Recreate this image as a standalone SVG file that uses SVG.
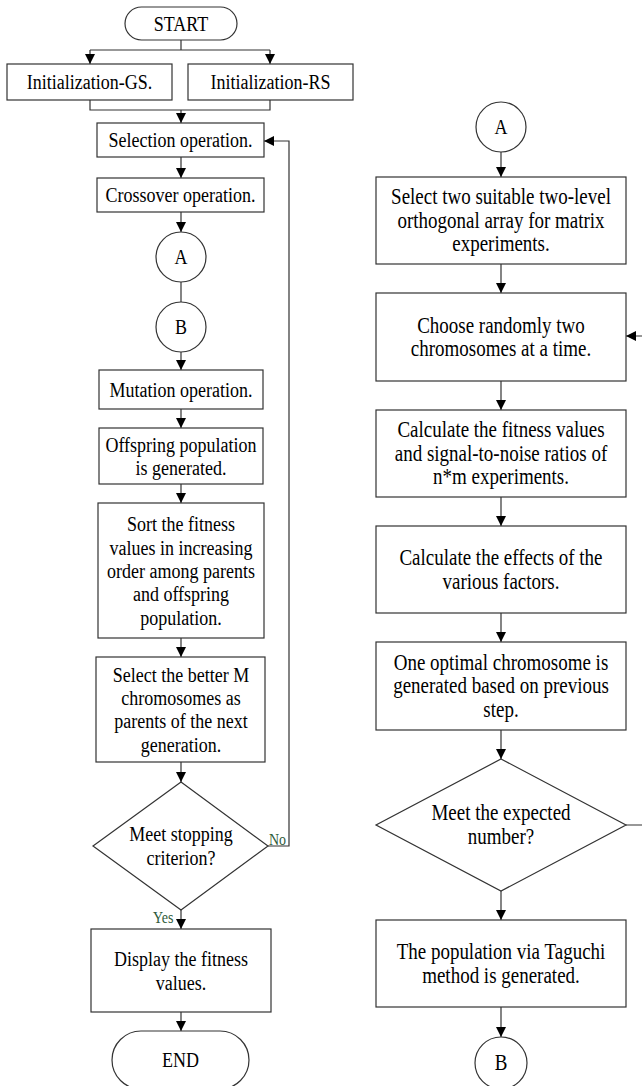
<svg xmlns="http://www.w3.org/2000/svg" width="642" height="1086" viewBox="0 0 642 1086">
<defs>
<marker id="ah" markerUnits="userSpaceOnUse" markerWidth="10" markerHeight="10" refX="10" refY="5" orient="auto">
<path d="M0,0 L10,5 L0,10 z" fill="#000"/>
</marker>
<style>
.n{fill:#fff;stroke:#333;stroke-width:1.2}
.t{font-family:"Liberation Serif","Times New Roman",serif;font-size:18px;fill:#000;text-anchor:middle;transform-box:fill-box;transform-origin:center;transform:scaleY(1.2)}
.r{font-size:19px}
.g{font-family:"Liberation Serif","Times New Roman",serif;font-size:14px;fill:#2e5a3a;transform-box:fill-box;transform-origin:center;transform:scaleY(1.2)}
.c{fill:none;stroke:#333;stroke-width:1.2}
.a{fill:none;stroke:#333;stroke-width:1.2;marker-end:url(#ah)}
</style>
</defs>
<rect width="642" height="1086" fill="#fff"/>
<g id="connectors">
<path class="c" d="M181 40 V50 M90 50 H270"/>
<path class="a" d="M90 50 V64"/>
<path class="a" d="M270 50 V64"/>
<path class="c" d="M90 100 V110 H270 V100"/>
<path class="a" d="M181 110 V123"/>
<path class="a" d="M181 157 V178"/>
<path class="a" d="M181 212 V232"/>
<path class="c" d="M181 282 V302"/>
<path class="a" d="M181 352 V370"/>
<path class="a" d="M181 409 V428"/>
<path class="a" d="M181 484 V503"/>
<path class="a" d="M181 638 V657"/>
<path class="a" d="M181 762 V782"/>
<path class="a" d="M181 910 V929"/>
<path class="a" d="M181 1012 V1031"/>
<path class="a" d="M268 846 H289 V141 H264"/>
<path class="a" d="M501 152 V177"/>
<path class="a" d="M501 264 V293"/>
<path class="a" d="M501 381 V410"/>
<path class="a" d="M501 497 V526"/>
<path class="a" d="M501 613 V642"/>
<path class="a" d="M501 730 V759"/>
<path class="a" d="M501 891 V920"/>
<path class="a" d="M501 1007 V1037"/>
<path class="a" d="M626 825 H652 V336 H626"/>
<text class="g" x="269" y="844">No</text>
<text class="g" x="153" y="922">Yes</text>
</g>
<g id="start"><rect class="n" x="125" y="7" width="112" height="33" rx="16.5"/><text class="t" x="181" y="29.5">START</text></g>
<g id="init-gs"><rect class="n" x="7" y="64" width="165" height="36"/><text class="t" x="89.5" y="88">Initialization-GS.</text></g>
<g id="init-rs"><rect class="n" x="188" y="64" width="165" height="36"/><text class="t" x="270.5" y="88">Initialization-RS</text></g>
<g id="selection"><rect class="n" x="97" y="123" width="167" height="34"/><text class="t" x="180.5" y="146">Selection operation.</text></g>
<g id="crossover"><rect class="n" x="97" y="178" width="167" height="34"/><text class="t" x="180.5" y="201">Crossover operation.</text></g>
<g id="conn-a-left"><circle class="n" cx="181" cy="257" r="25"/><text class="t" x="181" y="263">A</text></g>
<g id="conn-b-left"><circle class="n" cx="181" cy="327" r="25"/><text class="t" x="181" y="333">B</text></g>
<g id="mutation"><rect class="n" x="99" y="370" width="164" height="39"/><text class="t" x="181" y="395.5">Mutation operation.</text></g>
<g id="offspring"><rect class="n" x="99" y="428" width="164" height="56"/><text class="t" x="181" y="450.5">Offspring population</text><text class="t" x="181" y="474">is generated.</text></g>
<g id="sort"><rect class="n" x="98" y="503" width="166" height="135"/>
<text class="t" x="181" y="530">Sort the fitness</text>
<text class="t" x="181" y="553.3">values in increasing</text>
<text class="t" x="181" y="576.6">order among parents</text>
<text class="t" x="181" y="600">and offspring</text>
<text class="t" x="181" y="623.3">population.</text></g>
<g id="select-better"><rect class="n" x="96" y="657" width="169" height="105"/>
<text class="t" x="181" y="680.5">Select the better M</text>
<text class="t" x="181" y="703.8">chromosomes as</text>
<text class="t" x="181" y="727.1">parents of the next</text>
<text class="t" x="181" y="750.4">generation.</text></g>
<g id="stop-check"><polygon class="n" points="181,782 268,846 181,910 93,846"/>
<text class="t" x="181" y="840">Meet stopping</text>
<text class="t" x="181" y="863.5">criterion?</text></g>
<g id="display"><rect class="n" x="91" y="929" width="180" height="83"/>
<text class="t" x="181" y="965">Display the fitness</text>
<text class="t" x="181" y="988.5">values.</text></g>
<g id="end"><rect class="n" x="112" y="1031" width="137" height="58" rx="29"/><text class="t" x="180.5" y="1066">END</text></g>
<g id="conn-a-right"><circle class="n" cx="501" cy="127" r="25"/><text class="t" x="501" y="133">A</text></g>
<g id="select-array"><rect class="n" x="376" y="177" width="250" height="87"/>
<text class="t r" x="501" y="203">Select two suitable two-level</text>
<text class="t r" x="501" y="226.5">orthogonal array for matrix</text>
<text class="t r" x="501" y="250">experiments.</text></g>
<g id="choose"><rect class="n" x="376" y="293" width="250" height="88"/>
<text class="t r" x="501" y="331.5">Choose randomly two</text>
<text class="t r" x="501" y="355">chromosomes at a time.</text></g>
<g id="calc-fitness"><rect class="n" x="376" y="410" width="250" height="87"/>
<text class="t r" x="501" y="436">Calculate the fitness values</text>
<text class="t r" x="501" y="459.5">and signal-to-noise ratios of</text>
<text class="t r" x="501" y="483">n*m experiments.</text></g>
<g id="calc-effects"><rect class="n" x="376" y="526" width="250" height="87"/>
<text class="t r" x="501" y="564">Calculate the effects of the</text>
<text class="t r" x="501" y="587.5">various factors.</text></g>
<g id="optimal"><rect class="n" x="376" y="642" width="250" height="88"/>
<text class="t r" x="501" y="668.5">One optimal chromosome is</text>
<text class="t r" x="501" y="692">generated based on previous</text>
<text class="t r" x="501" y="715.5">step.</text></g>
<g id="expected-check"><polygon class="n" points="501,759 626,825 501,891 376,825"/>
<text class="t r" x="501" y="819">Meet the expected</text>
<text class="t r" x="501" y="842.5">number?</text></g>
<g id="taguchi-pop"><rect class="n" x="376" y="920" width="250" height="87"/>
<text class="t r" x="501" y="958">The population via Taguchi</text>
<text class="t r" x="501" y="981.5">method is generated.</text></g>
<g id="conn-b-right"><circle class="n" cx="501" cy="1063" r="26"/><text class="t r" x="501" y="1069">B</text></g>
</svg>
